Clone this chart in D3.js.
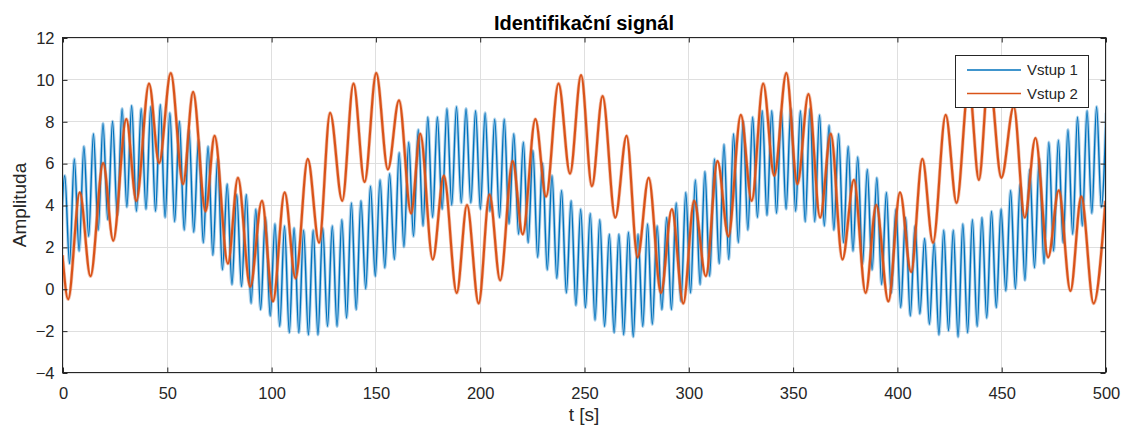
<!DOCTYPE html>
<html>
<head>
<meta charset="utf-8">
<script src="https://cdn.jsdelivr.net/npm/d3@7"></script>
<style>
  html, body { margin: 0; padding: 0; background: #fff; }
  svg { display: block; font-family: "Liberation Sans", Arial, Helvetica, sans-serif; }
</style>
</head>
<body>
<svg id="chart" width="1128" height="430"></svg>
<script>
// ---- data -------------------------------------------------------------
const chartTitle = "Identifikační signál";
const xLabel = "t [s]";
const yLabel = "Amplituda";
const seriesNames = ["Vstup 1", "Vstup 2"];
const xTicks = [0, 50, 100, 150, 200, 250, 300, 350, 400, 450, 500];
const yTicks = [-4, -2, 0, 2, 4, 6, 8, 10, 12];

// Vstup 1: successive extremes (trough, peak, trough, ...) sampled every half period
const vstup1Start = -1.2;   // time of the first sample [s]
const vstup1Step = 2.29;    // half period of the fast oscillation [s]
const vstup1 = [
  1.0,
  5.4, 1.2, 6.2, 1.8, 6.8, 2.5, 7.4, 2.8, 7.9, 3.3, 8.0, 3.5, 8.6, 3.9, 8.75, 3.7, 8.6, 3.8, 8.7, 3.7,
  8.8, 3.4, 8.4, 3.2, 8.0, 2.8, 7.6, 2.7, 7.1, 2.2, 6.8, 1.6, 6.2, 0.9, 5.0, 0.2, 4.5, 0.1, 4.5, -0.7,
  3.8, -1.0, 3.4, -1.3, 3.1, -1.8, 3.0, -2.1, 2.9, -2.1, 2.8, -2.2, 2.8, -2.2, 2.9, -1.8, 3.0, -1.8, 3.3, -1.4,
  4.1, -1.0, 4.2, 0.0, 4.9, 0.6, 5.2, 1.0, 5.5, 1.4, 6.5, 2.0, 7.0, 2.5, 7.6, 3.0, 8.2, 3.4, 8.2, 3.8,
  8.6, 4.0, 8.7, 4.1, 8.6, 4.1, 8.5, 3.8, 8.4, 3.7, 8.1, 3.4, 8.1, 3.1, 7.4, 2.6, 7.0, 2.2, 6.6, 1.5,
  6.0, 0.9, 5.4, 0.5, 4.7, -0.2, 4.2, -0.8, 3.8, -0.9, 3.6, -1.5, 3.3, -1.8, 2.6, -2.1, 2.6, -2.2, 2.7, -2.3,
  2.6, -1.8, 3.1, -1.7, 3.0, -1.0, 3.4, -1.0, 4.1, -0.6, 4.6, -0.2, 5.2, 0.2, 5.6, 0.6, 6.2, 1.2, 6.9, 1.4,
  7.4, 2.2, 8.0, 2.8, 8.2, 3.4, 8.5, 3.5, 8.5, 3.6, 8.5, 3.8, 8.6, 3.7, 8.5, 3.2, 8.6, 3.2, 8.3, 3.0,
  7.8, 2.8, 7.4, 2.2, 6.8, 1.8, 6.3, 1.2, 5.7, 0.9, 5.3, 0.2, 4.6, -0.2, 3.8, -0.9, 3.4, -1.3, 3.0, -1.2,
  2.4, -1.7, 2.2, -2.2, 2.8, -2.0, 2.8, -2.3, 3.1, -2.1, 3.3, -1.8, 3.4, -1.4, 3.7, -0.9, 3.8, -0.1, 4.7, 0.0,
  5.0, 0.4, 5.7, 1.0, 6.2, 1.2, 7.0, 1.8, 7.1, 2.2, 7.6, 2.6, 8.2, 3.0, 8.5, 3.6, 8.7, 3.9,
  8.4
];

// Vstup 2: times [s] and values of its successive extremes
const vstup2Time = [
  0, 2.7, 8.3, 13.4, 19.5, 24.3, 30.6, 35.4, 41.5, 46.3, 51.9, 57.8, 62.6, 68.6, 72.9, 79.3,
  84.1, 90.0, 95.6, 100.9, 106.5, 111.7, 117.6, 123.0, 128.3, 134.1, 139.5, 144.8, 150.4, 156.0,
  161.3, 167.1, 171.5, 177.5, 182.8, 189.0, 193.9, 199.5, 204.7, 209.8, 215.8, 220.6, 226.7, 231.8,
  237.8, 243.3, 248.6, 253.8, 258.9, 265.0, 270.4, 275.7, 281.0, 286.9, 292.1, 297.6, 302.8, 308.4,
  314.0, 319.2, 325.2, 330.4, 335.9, 341.2, 347.0, 352.3, 357.6, 363.2, 368.3, 373.9, 379.4, 385.0,
  390.1, 395.9, 401.5, 406.8, 412.2, 417.3, 423.4, 428.6, 434.5, 439.3, 444.1, 450.1, 456.0, 461.3,
  466.4, 472.5, 477.6, 483.2, 488.4, 494.3, 500
];
const vstup2 = [
  1.6, -0.5, 4.6, 0.6, 6.0, 2.3, 8.1, 4.2, 9.8, 6.0, 10.3, 5.0, 9.4, 3.7, 7.3, 1.2,
  5.3, 0.1, 4.2, -0.6, 4.6, 0.5, 6.2, 2.2, 8.4, 4.2, 9.8, 5.1, 10.3, 5.7,
  9.0, 3.6, 7.4, 1.4, 5.4, -0.2, 4.0, -0.7, 4.5, 0.4, 6.1, 2.6, 8.1, 4.4,
  9.8, 5.5, 10.2, 4.9, 9.2, 3.4, 7.3, 1.5, 5.3, -0.2, 3.8, -0.7, 4.2, 0.6,
  6.1, 2.5, 8.3, 4.2, 9.8, 5.4, 10.3, 5.0, 9.3, 3.4, 7.4, 1.4, 5.2, -0.2,
  4.0, -0.6, 4.6, 0.8, 6.2, 2.2, 8.3, 4.1, 9.8, 5.2, 10.3, 5.3, 8.7, 3.4,
  7.2, 1.5, 4.7, -0.1, 4.4, -0.7, 4.2
];

// ---- layout -----------------------------------------------------------
const svg = d3.select("#chart");
const plot = { left: 62.5, right: 1105.5, top: 37.5, bottom: 372.5 };
const ink = "#262626";
const colors = ["#0072BD", "#D95319"];

const x = d3.scaleLinear().domain([0, 500]).range([plot.left, plot.right]);
const y = d3.scaleLinear().domain([-4, 12]).range([plot.bottom, plot.top]);

svg.append("rect")
  .attr("x", plot.left).attr("y", plot.top)
  .attr("width", plot.right - plot.left).attr("height", plot.bottom - plot.top)
  .attr("fill", "#fff");

// grid
const grid = svg.append("g").attr("stroke", "#dfdfdf").attr("stroke-width", 1);
grid.selectAll("line.gx").data(xTicks).join("line")
  .attr("x1", d => Math.round(x(d)) + 0.5).attr("x2", d => Math.round(x(d)) + 0.5)
  .attr("y1", plot.top).attr("y2", plot.bottom);
grid.selectAll("line.gy").data(yTicks).join("line")
  .attr("y1", d => Math.round(y(d)) + 0.5).attr("y2", d => Math.round(y(d)) + 0.5)
  .attr("x1", plot.left).attr("x2", plot.right);

// series
svg.append("clipPath").attr("id", "plotClip")
  .append("rect")
  .attr("x", plot.left).attr("y", plot.top)
  .attr("width", plot.right - plot.left).attr("height", plot.bottom - plot.top);

const line = d3.line()
  .x(d => x(d[0]))
  .y(d => y(d[1]))
  .curve(d3.curveMonotoneX);

const s1 = vstup1.map((v, i) => [vstup1Start + i * vstup1Step, v]);
const s2 = vstup2.map((v, i) => [vstup2Time[i], v]);

const lines = svg.append("g").attr("clip-path", "url(#plotClip)").attr("fill", "none");
lines.append("path").attr("d", line(s1))
  .attr("stroke", colors[0]).attr("stroke-width", 3.2).attr("stroke-opacity", 0.3)
  .attr("stroke-linejoin", "round");
lines.append("path").attr("d", line(s1))
  .attr("stroke", colors[0]).attr("stroke-width", 1.4).attr("stroke-linejoin", "round");
lines.append("path").attr("d", line(s2))
  .attr("stroke", colors[1]).attr("stroke-width", 3.6).attr("stroke-opacity", 0.35)
  .attr("stroke-linejoin", "round");
lines.append("path").attr("d", line(s2))
  .attr("stroke", colors[1]).attr("stroke-width", 2.2).attr("stroke-linejoin", "round");

// axes (ticks point inward, box on all four sides)
const tickFont = 16.5;
function styleAxis(g) {
  g.select(".domain").remove();
  g.selectAll(".tick line").attr("stroke", ink).attr("stroke-width", 1);
  g.selectAll(".tick text").attr("fill", ink).attr("font-size", tickFont)
    .attr("font-family", "'Liberation Sans', Arial, Helvetica, sans-serif");
}
const xb = svg.append("g").attr("transform", `translate(0.5,${plot.bottom})`)
  .call(d3.axisBottom(x).tickValues(xTicks).tickSize(-5).tickPadding(15).tickFormat(d3.format("d")));
styleAxis(xb);
const xt = svg.append("g").attr("transform", `translate(0.5,${plot.top})`)
  .call(d3.axisTop(x).tickValues(xTicks).tickSize(-5).tickFormat(""));
styleAxis(xt);
const yl = svg.append("g").attr("transform", `translate(${plot.left},0.5)`)
  .call(d3.axisLeft(y).tickValues(yTicks).tickSize(-5).tickPadding(8).tickFormat(d3.format("d")));
styleAxis(yl);
const yr = svg.append("g").attr("transform", `translate(${plot.right},0.5)`)
  .call(d3.axisRight(y).tickValues(yTicks).tickSize(-5).tickFormat(""));
styleAxis(yr);

svg.append("rect")
  .attr("x", plot.left).attr("y", plot.top)
  .attr("width", plot.right - plot.left).attr("height", plot.bottom - plot.top)
  .attr("fill", "none").attr("stroke", ink).attr("stroke-width", 1);

// title and axis labels
const cx = (plot.left + plot.right) / 2;
svg.append("text").text(chartTitle)
  .attr("x", cx).attr("y", 30).attr("text-anchor", "middle")
  .attr("font-size", 20).attr("font-weight", "bold").attr("fill", "#000");
svg.append("text").text(xLabel)
  .attr("x", cx).attr("y", 421).attr("text-anchor", "middle")
  .attr("font-size", 19).attr("fill", ink);
svg.append("text").text(yLabel)
  .attr("transform", `translate(26,${(plot.top + plot.bottom) / 2}) rotate(-90)`)
  .attr("text-anchor", "middle")
  .attr("font-size", 19).attr("fill", ink);

// legend
const lg = svg.append("g").attr("transform", "translate(955.5,55.5)");
lg.append("rect").attr("width", 133).attr("height", 52)
  .attr("fill", "#fff").attr("stroke", ink).attr("stroke-width", 1);
seriesNames.forEach((name, i) => {
  const yy = 14.5 + i * 23.5;
  lg.append("line").attr("x1", 11.5).attr("x2", 65.5).attr("y1", yy).attr("y2", yy)
    .attr("stroke", colors[i]).attr("stroke-width", 1.4);
  lg.append("text").text(name).attr("x", 71.5).attr("y", yy).attr("dy", "0.35em")
    .attr("font-size", 15).attr("fill", ink);
});
</script>
</body>
</html>
